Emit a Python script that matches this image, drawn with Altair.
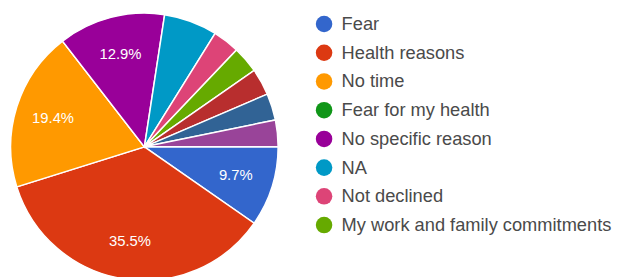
import math
import altair as alt
import pandas as pd

categories = [
    "Fear", "Health reasons", "No time", "Fear for my health",
    "No specific reason", "NA", "Not declined", "My work and family commitments",
    "Other 1", "Other 2", "Other 3",
]
counts = [3, 11, 6, 0, 4, 2, 1, 1, 1, 1, 1]
colors = [
    "#3366cc", "#dc3912", "#ff9900", "#109618", "#990099", "#0099c6",
    "#dd4477", "#66aa00", "#b82e2e", "#316395", "#994499",
]
legend_items = categories[:8]

df = pd.DataFrame({"category": categories, "count": counts, "idx": list(range(len(categories)))})

start = math.pi / 2
theta_scale = alt.Scale(range=[start, start + 2 * math.pi])
color_scale = alt.Scale(domain=categories, range=colors)

base = alt.Chart(df).transform_joinaggregate(
    total="sum(count)"
).transform_calculate(
    pct="datum.count / datum.total",
    label="datum.count / datum.total >= 0.08 ? format(datum.count / datum.total, '.1%') : ''",
).encode(
    theta=alt.Theta("count:Q", stack=True, scale=theta_scale),
    order=alt.Order("idx:Q"),
    x=alt.value(138.2),
    y=alt.value(138.7),
)

arcs = base.mark_arc(outerRadius=135.5, stroke="white", strokeWidth=1.5).encode(
    color=alt.Color(
        "category:N",
        scale=color_scale,
        legend=alt.Legend(
            values=legend_items,
            title=None,
            orient="none",
            legendX=311,
            legendY=5,
            padding=0,
            symbolType="circle",
            symbolSize=280,
            symbolStrokeWidth=0,
            labelFontSize=18.5,
            labelFont="Liberation Sans",
            labelColor="#4a4a4a",
            labelOffset=8.5,
            rowPadding=10.1,
            labelLimit=400,
        ),
    )
)

labels = base.mark_text(radius=97, fontSize=15, font="Liberation Sans", color="white").encode(
    text="label:N"
)

chart = (arcs + labels).properties(
    width=614,
    height=300,
    padding=0,
    autosize=alt.AutoSizeParams(type="none"),
).configure_view(stroke=None)

chart.save("out.html", embed_options={"renderer": "svg", "actions": False})
